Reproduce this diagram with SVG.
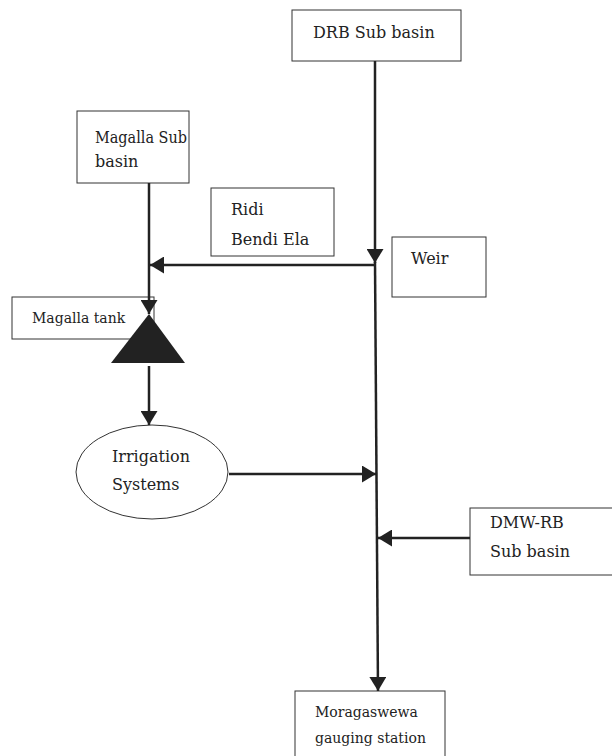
<svg xmlns="http://www.w3.org/2000/svg" width="612" height="756" viewBox="0 0 612 756">
<style>
.box{fill:#fff;stroke:#333;stroke-width:1}
.t{font-family:"DejaVu Serif","Liberation Serif",serif;font-size:16px;fill:#222}
.s{font-size:14px}
.c{stroke:#222;stroke-width:2.5;fill:none}
</style>
<defs>
<marker id="ah" viewBox="0 0 14 17" refX="14" refY="8.5" markerWidth="5.6" markerHeight="6.8" markerUnits="strokeWidth" orient="auto">
<path d="M0,0 L14,8.5 L0,17 Z" fill="#222"/>
</marker>
</defs>
<g id="drb">
<rect class="box" x="292" y="10" width="169" height="51"/>
<text class="t" x="313" y="38">DRB Sub basin</text>
</g>
<g id="magalla">
<rect class="box" x="77" y="111" width="112" height="72"/>
<text class="t" x="95" y="143" textLength="92" lengthAdjust="spacingAndGlyphs">Magalla Sub</text>
<text class="t" x="95" y="167">basin</text>
</g>
<g id="ridi">
<rect class="box" x="211" y="188" width="123" height="68"/>
<text class="t" x="231" y="215">Ridi</text>
<text class="t" x="231" y="245">Bendi Ela</text>
</g>
<g id="weir">
<rect class="box" x="392" y="237" width="94" height="60"/>
<text class="t" x="411" y="264">Weir</text>
</g>
<g id="tank">
<rect class="box" x="12" y="297" width="142" height="42"/>
<text class="t s" x="32" y="323">Magalla tank</text>
<polygon points="149,314 111,363 185,363" fill="#222"/>
</g>
<g id="irrigation">
<ellipse class="box" cx="152" cy="472" rx="76" ry="47"/>
<text class="t" x="112" y="462">Irrigation</text>
<text class="t" x="112" y="490">Systems</text>
</g>
<g id="dmw">
<rect class="box" x="470" y="508" width="150" height="67"/>
<text class="t" x="490" y="528">DMW-RB</text>
<text class="t" x="490" y="557">Sub basin</text>
</g>
<g id="moragaswewa">
<rect class="box" x="295" y="691" width="150" height="70"/>
<text class="t s" x="315" y="717">Moragaswewa</text>
<text class="t s" x="315" y="743">gauging station</text>
</g>
<g id="connectors">
<line class="c" x1="375" y1="61" x2="375" y2="263" marker-end="url(#ah)"/>
<line class="c" x1="375" y1="262" x2="378" y2="691" marker-end="url(#ah)"/>
<line class="c" x1="375" y1="265" x2="150" y2="265" marker-end="url(#ah)"/>
<line class="c" x1="149" y1="183" x2="149" y2="314" marker-end="url(#ah)"/>
<line class="c" x1="149" y1="366" x2="149" y2="425" marker-end="url(#ah)"/>
<line class="c" x1="229" y1="474" x2="376" y2="474" marker-end="url(#ah)"/>
<line class="c" x1="470" y1="538" x2="378" y2="538" marker-end="url(#ah)"/>
</g>
</svg>
